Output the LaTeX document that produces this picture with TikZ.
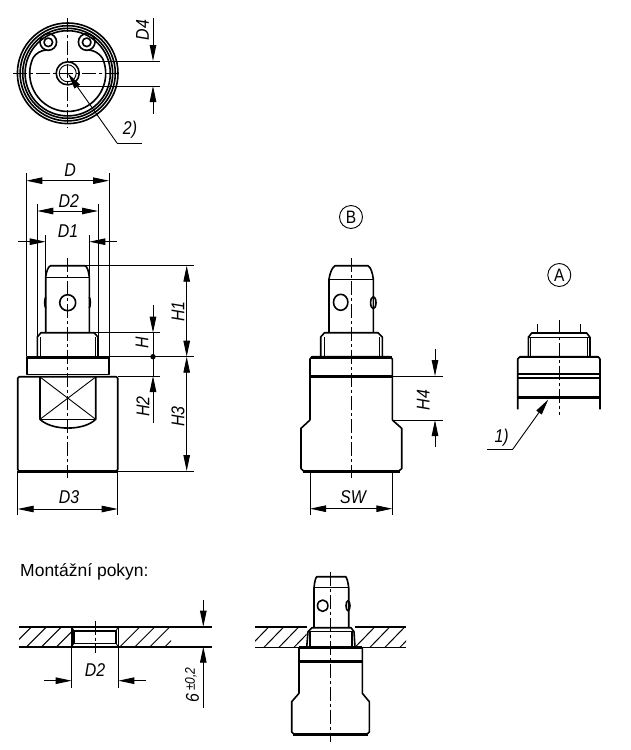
\documentclass[tikz,border=0pt]{standalone}
\usepackage{fontspec}
\setmainfont{Liberation Sans}
\newfontfamily\dimfont{Liberation Sans}[FakeStretch=0.86]
\usetikzlibrary{arrows.meta}
\tikzset{
  part/.style={line width=1.6pt, line join=round},
  heavy/.style={line width=3pt},
  fine/.style={line width=0.9pt},
  axisline/.style={line width=1pt, dash pattern=on 14pt off 3pt on 3pt off 3pt},
  tip/.tip={Triangle[length=16pt,width=6.5pt]},
  dimline/.style={line width=0.9pt, -tip},
  twoway/.style={line width=0.9pt, tip-tip},
  dimtext/.style={font=\dimfont\fontsize{18.5}{19}\selectfont\itshape, inner sep=0pt},
  hatchline/.style={line width=1pt},
  viewmark/.style={circle, draw, line width=0.9pt, minimum size=23pt, inner sep=0pt, font=\dimfont\fontsize{18}{19}\selectfont}
}
\begin{document}
\begin{tikzpicture}[x=1pt,y=-1pt]
\useasboundingbox (0,0) rectangle (630,750);

% top view
\foreach \r in {50.3,47.6,45,42.6}
  \draw[part] (67.7,73.3) circle (\r);
\draw[part] (67.7,73.3) circle (11.5);
\draw[fine] (67.7,73.3) circle (8.5);
\draw[part] (33,58) arc[start angle=204,end angle=-24,radius=38];
\draw[part] (33,58) .. controls (36,53) and (41,50.5) .. (46,50);
\draw[part] (102.4,58) .. controls (99,53) and (94,50.5) .. (89,50);
\draw[part] (48.3,42) circle (8.3);
\draw[part] (86.7,42) circle (8.3);
\draw[part] (48.3,42.3) circle (4.3);
\draw[part] (86.7,42.3) circle (4.3);
\draw[axisline] (13,73.3) -- (122,73.3);
\draw[axisline] (67.7,18) -- (67.7,128);

\draw[fine] (70,61) -- (160,61);
\draw[fine] (78,86) -- (160,86);
\draw[dimline] (153,18) -- (153,61);
\draw[dimline] (153,114) -- (153,86);
\node[dimtext,rotate=90] (labelDfour) at (142.5,30) {D4};

\coordinate (leadTwo) at (117,143);
\draw[dimline] (leadTwo) -- (68,73.5);
\draw[fine] (leadTwo) -- (142,143);
\node[dimtext] (labelTwo) at (130,130) {2)};

% main view
\draw[part] (45.7,332.7) -- (45.7,277) .. controls (46.5,271) and (48,267) .. (50.5,265.7)
  -- (85,265.7) .. controls (87.5,267) and (88.5,271) .. (89.3,277) -- (89.3,332.7);
\draw[fine] (45.7,277) -- (89.3,277);
\draw[part] (67.7,302.7) circle (8);
\draw[part] (45.7,297) .. controls (44.3,300) and (44.3,305) .. (45.7,308);
\draw[part] (89.3,297) .. controls (90.7,300) and (90.7,305) .. (89.3,308);
\draw[part] (37.3,356.7) -- (37.3,337) -- (41,332.7) -- (94,332.7) -- (98,337) -- (98,356.7);
\draw[fine] (40,337) -- (40,356.7) (95,337) -- (95,356.7);
\draw[heavy] (26.7,357.5) -- (109,357.5);
\draw[part] (26.7,356.7) rectangle (109,374.5);
\draw[part,rounded corners=1.5pt] (17.7,376.7) rectangle (117.7,471);
\draw[heavy] (17.7,471) -- (117.7,471);
\draw[part] (40,377) -- (40,419.3) .. controls (52,431) and (84,431) .. (95.7,419.3) -- (95.7,377);
\draw[fine] (40,419.3) -- (95.7,419.3);
\draw[fine] (40,377) -- (95.7,419.3) (95.7,377) -- (40,419.3);
\draw[axisline] (67.7,258) -- (67.7,478);

\draw[fine] (26.3,173) -- (26.3,356) (109,173) -- (109,356);
\draw[fine] (37.3,204) -- (37.3,337) (98,204) -- (98,337);
\draw[fine] (45.7,235) -- (45.7,277) (89.3,235) -- (89.3,277);
\draw[twoway] (26.3,180.7) -- (109,180.7);
\draw[twoway] (37.3,211) -- (98,211);
\draw[dimline] (18.3,241.7) -- (45.7,241.7);
\draw[dimline] (116.7,241.7) -- (89.3,241.7);
\node[dimtext] (labelD) at (70,170) {D};
\node[dimtext] (labelDtwo) at (68.7,201) {D2};
\node[dimtext] (labelDone) at (68,231) {D1};

\draw[fine] (85,265.7) -- (194,265.7);
\draw[fine] (109,356.7) -- (194,356.7);
\draw[fine] (117.7,471) -- (194,471);
\draw[fine] (94,332.7) -- (160,332.7);
\draw[fine] (117.7,376) -- (160,376);
\draw[twoway] (186.7,265.7) -- (186.7,356.7);
\draw[twoway] (186.7,356.7) -- (186.7,471);
\draw[dimline] (153,305) -- (153,332.7);
\draw[fine] (153,332.7) -- (153,376);
\fill (153,356.7) circle (2.7);
\draw[dimline] (153,422.7) -- (153,376);
\node[dimtext,rotate=90] (labelH) at (142,343) {H};
\node[dimtext,rotate=90] (labelHone) at (178,311.7) {H1};
\node[dimtext,rotate=90] (labelHtwo) at (143,406.7) {H2};
\node[dimtext,rotate=90] (labelHthree) at (178,416.7) {H3};
\draw[fine] (17.7,471) -- (17.7,515) (117.7,471) -- (117.7,515);
\draw[twoway] (17.7,509) -- (117.7,509);
\node[dimtext] (labelDthree) at (69,497) {D3};

% view B
\node[viewmark] (markB) at (351,217) {B};
\draw[part] (329,332.7) -- (329,279) .. controls (330,273) and (332,267.5) .. (335,265.7)
  -- (368,265.7) .. controls (371,267.5) and (372.5,273) .. (373.3,279) -- (373.3,332.7);
\draw[fine] (329,279) -- (373.3,279);
\draw[part] (340.7,302.3) ellipse (7.2 and 8);
\draw[part] (373.3,302.7) ellipse (2.7 and 6);
\draw[part] (320.7,356.7) -- (320.7,337) -- (324.5,332.7) -- (378,332.7) -- (382.3,337) -- (382.3,356.7);
\draw[fine] (324.3,337) -- (324.3,356.7) (379.3,337) -- (379.3,356.7);
\draw[heavy] (311,357.5) -- (391.5,357.5);
\draw[heavy] (310,376) -- (392.3,376);
\draw[part] (310,420) -- (310,359) -- (312,356.7) -- (390,356.7) -- (392.3,359) -- (392.3,420);
\draw[part] (310,420) -- (301,428.3) -- (301,468.5) -- (303.5,471) -- (399,471) -- (401.7,468.5)
  -- (401.7,428.3) -- (392.3,420);
\draw[heavy] (303,471) -- (400,471);
\draw[axisline] (351,258) -- (351,478);

\draw[fine] (392.3,376) -- (442.7,376);
\draw[fine] (392.3,420) -- (442.7,420);
\draw[dimline] (435,349) -- (435,376);
\draw[dimline] (435,446.7) -- (435,420);
\node[dimtext,rotate=90] (labelHfour) at (423.3,400) {H4};
\draw[fine] (310,471) -- (310,515) (392.3,471) -- (392.3,515);
\draw[twoway] (310,508.7) -- (392.3,508.7);
\node[dimtext] (labelSW) at (353,497) {SW};

% view A
\node[viewmark] (markA) at (559.3,275) {A};
\draw[fine] (537.3,324) -- (537.3,333) (580.7,324) -- (580.7,333);
\draw[part] (528.3,356.7) -- (528.3,337.3) -- (531.7,333) -- (586.7,333) -- (590,337.3) -- (590,356.7);
\draw[fine] (528.3,337.3) -- (590,337.3);
\draw[fine] (530.7,337.3) -- (530.7,356.7) (587.7,337.3) -- (587.7,356.7);
\draw[part] (517.7,409.3) -- (517.7,359) -- (520,356.7) -- (598,356.7) -- (600,359) -- (600,409.3);
\draw[part] (517.7,357.5) -- (600,357.5);
\draw[part] (517.7,374.2) -- (600,374.2) (517.7,377.8) -- (600,377.8);
\draw[heavy] (517.7,397.7) -- (600,397.7);
\draw[axisline] (559.3,320) -- (559.3,415);

\coordinate (leadOne) at (512.7,449.3);
\draw[dimline] (leadOne) -- (548.3,399.5);
\draw[fine] (leadOne) -- (487.3,449.3);
\node[dimtext] (labelOne) at (501.7,438) {1)};

% mounting hole
\node[anchor=west, inner sep=0pt, font=\fontsize{17.5}{18}\selectfont] (labelMount) at (20,572) {Montážní pokyn:};
\draw[part] (19,626.7) -- (211.7,626.7);
\draw[part] (19,646.7) -- (211.7,646.7);
\begin{scope}
  \clip (19,626.7) rectangle (71.7,646.7);
  \foreach \x in {11.7,26.7,41.7,56.7}
    \draw[hatchline] (\x,646.7) -- (\x+20,626.7);
\end{scope}
\begin{scope}
  \clip (118.3,626.7) rectangle (171,646.7);
  \foreach \x in {120,135,150,165}
    \draw[hatchline] (\x,646.7) -- (\x+20,626.7);
\end{scope}
\draw[part] (71.7,626.7) -- (71.7,646.7) (118.3,626.7) -- (118.3,646.7);
\draw[part] (74,631) rectangle (116,643.3);
\draw[fine] (71.7,626.7) -- (74,631) (118.3,626.7) -- (116,631) (71.7,646.7) -- (74,643.3) (118.3,646.7) -- (116,643.3);
\draw[axisline] (95,620.7) -- (95,653.3);
\draw[fine] (71.7,646.7) -- (71.7,687.7) (118.3,646.7) -- (118.3,687.7);
\draw[dimline] (44,680.7) -- (71.7,680.7);
\draw[dimline] (146,680.7) -- (118.3,680.7);
\node[dimtext] (labelDtwoHole) at (95,670) {D2};
\draw[dimline] (203.3,600) -- (203.3,626.7);
\draw[dimline] (203.3,708.3) -- (203.3,646.7);
\node[dimtext,rotate=90] (labelSix) at (192,685) {6\,{\fontsize{14}{15}\selectfont\raisebox{4pt}{±0,2}}};

% mounted part
\draw[part] (314,627.7) -- (314,587.7) .. controls (314.6,582) and (315.5,578) .. (316.7,576.7)
  -- (345.7,576.7) .. controls (347,578) and (348,582) .. (348.7,587.7) -- (348.7,627.7);
\draw[fine] (314,587.7) -- (348.7,587.7);
\draw[part] (322.7,605.7) ellipse (5.2 and 5.7);
\draw[part] (348,605.7) ellipse (2 and 5);
\draw[part] (255,626.7) -- (306.7,626.7) (355,626.7) -- (406,626.7);
\draw[part] (255,647.3) -- (406,647.3);
\begin{scope}
  \clip (255,626.7) rectangle (306.7,647.3);
  \foreach \x in {249,264,279,294}
    \draw[hatchline] (\x,647.3) -- (\x+20,626.7);
\end{scope}
\begin{scope}
  \clip (355,626.7) rectangle (406,647.3);
  \foreach \x in {355,370,385,400}
    \draw[hatchline] (\x,647.3) -- (\x+20,626.7);
\end{scope}
\draw[part] (306.7,647.3) -- (308,631.7) -- (312,627.7) -- (351,627.7) -- (354,631.7) -- (355,647.3);
\draw[fine] (308,631.7) -- (354,631.7);
\draw[part] (310,632) -- (310,647.3) (352,632) -- (352,647.3);
\draw[heavy] (299,647.8) -- (362.3,647.8);
\draw[heavy] (299,661.7) -- (362.3,661.7);
\draw[part] (299,647.3) -- (299,693.3) -- (291.7,701.7) -- (291.7,732) -- (294,734.3) -- (367,734.3)
  -- (369.3,732) -- (369.3,701.7) -- (362.3,693.3) -- (362.3,647.3);
\draw[heavy] (293,734.3) -- (368,734.3);
\draw[axisline] (330.3,571.7) -- (330.3,741.7);
\end{tikzpicture}
\end{document}
